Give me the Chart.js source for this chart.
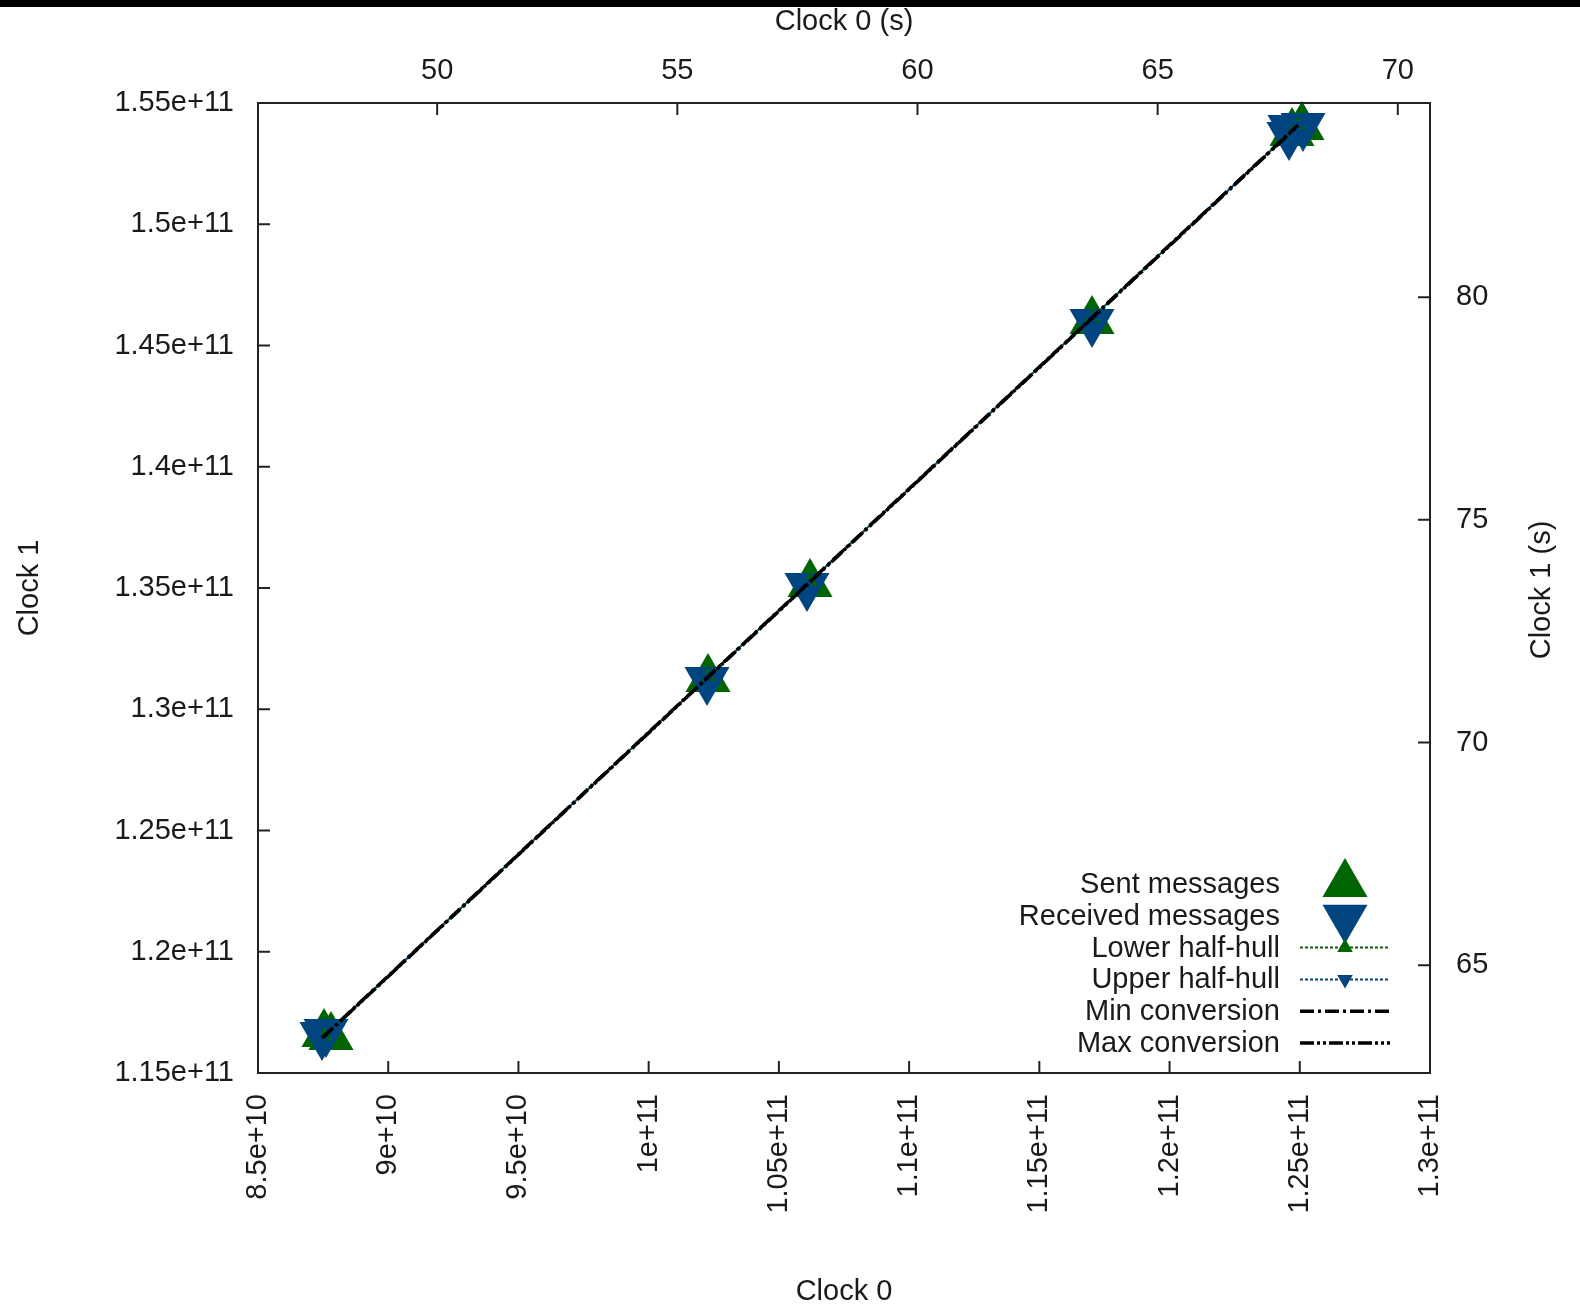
<!DOCTYPE html>
<html>
<head>
<meta charset="utf-8">
<script src="https://cdn.jsdelivr.net/npm/chart.js@4.4.1/dist/chart.umd.min.js"></script>
<style>
  html, body { margin: 0; padding: 0; background: #fff; }
  canvas { display: block; }
</style>
</head>
<body>
<canvas id="clockChart" width="1580" height="1311"></canvas>
<script>
// clock sync data
const sentX = [8.7534e10, 8.7803e10, 1.02278e11, 1.06195e11, 1.17022e11, 1.25085e11, 1.24701e11];
const sentY = [1.16608e11, 1.16485e11, 1.31247e11, 1.35165e11, 1.46010e11, 1.54010e11, 1.53763e11];
const recvX = [8.7457e10, 8.7611e10, 1.02240e11, 1.06079e11, 1.17022e11, 1.24625e11, 1.25124e11, 1.24586e11];
const recvY = [1.16567e11, 1.16691e11, 1.31206e11, 1.35083e11, 1.45969e11, 1.53969e11, 1.54052e11, 1.53680e11];
const lowerHullX = [8.7534e10, 1.02278e11, 1.06195e11, 1.17022e11, 1.24932e11];
const lowerHullY = [1.16520e11, 1.31333e11, 1.35269e11, 1.46146e11, 1.54093e11];
const upperHullX = [8.7457e10, 1.02240e11, 1.06079e11, 1.17022e11, 1.24932e11];
const upperHullY = [1.16443e11, 1.31295e11, 1.35152e11, 1.46146e11, 1.54093e11];
const minConvX = [8.7457e10, 1.24932e11];
const minConvY = [1.16443e11, 1.54093e11];
const maxConvX = [8.7500e10, 1.24932e11];
const maxConvY = [1.16470e11, 1.54070e11];

const xTickValues = [8.5e10, 9e10, 9.5e10, 1e11, 1.05e11, 1.1e11, 1.15e11, 1.2e11, 1.25e11, 1.3e11];
const xTickLabels = ['8.5e+10', '9e+10', '9.5e+10', '1e+11', '1.05e+11', '1.1e+11', '1.15e+11', '1.2e+11', '1.25e+11', '1.3e+11'];
const yTickValues = [1.15e11, 1.2e11, 1.25e11, 1.3e11, 1.35e11, 1.4e11, 1.45e11, 1.5e11, 1.55e11];
const yTickLabels = ['1.15e+11', '1.2e+11', '1.25e+11', '1.3e+11', '1.35e+11', '1.4e+11', '1.45e+11', '1.5e+11', '1.55e+11'];
const x2TickValues = [50, 55, 60, 65, 70];
const y2TickValues = [65, 70, 75, 80];

const GREEN = '#006400';
const BLUE = '#00457f';
const INK = '#1a1a1a';
const FONT = "'Liberation Sans', Arial, sans-serif";
const FSIZE = 29;
const BIG = 26;

const pts = (xs, ys) => xs.map((x, i) => ({ x, y: ys[i] }));

Chart.defaults.font.family = FONT;
Chart.defaults.font.size = FSIZE;
Chart.defaults.color = INK;

// fixed box sizes so the plot area lands where gnuplot put it
const fixW = w => scale => { scale.width = w; };
const fixH = h => scale => { scale.height = h; };
const setTicks = vals => scale => { scale.ticks = vals.map(v => ({ value: v })); };

const legendRows = [
  { text: 'Sent messages', kind: 'up', color: GREEN },
  { text: 'Received messages', kind: 'down', color: BLUE },
  { text: 'Lower half-hull', kind: 'line-up', color: GREEN, dash: [3, 2] },
  { text: 'Upper half-hull', kind: 'line-down', color: BLUE, dash: [3, 2] },
  { text: 'Min conversion', kind: 'line', color: '#000', dash: [14, 4, 3, 4] },
  { text: 'Max conversion', kind: 'line', color: '#000', dash: [14, 3, 3, 3, 3, 3] }
];

function triangle(ctx, x, y, r, down) {
  const s = down ? -1 : 1;
  ctx.beginPath();
  ctx.moveTo(x, y - s * r);
  ctx.lineTo(x + r * 0.866, y + s * r / 2);
  ctx.lineTo(x - r * 0.866, y + s * r / 2);
  ctx.closePath();
  ctx.fill();
}

const gnuplotFrame = {
  id: 'gnuplotFrame',
  beforeDraw(chart) {
    const ctx = chart.ctx;
    ctx.save();
    ctx.fillStyle = '#000';
    ctx.fillRect(0, 0, chart.width, 7);
    ctx.restore();
  },
  afterDatasetsDraw(chart) {
    const { ctx, chartArea: a, scales } = chart;
    ctx.save();
    ctx.strokeStyle = '#222';
    ctx.lineWidth = 2;
    ctx.strokeRect(a.left, a.top, a.right - a.left, a.bottom - a.top);

    // inward tick marks
    const tl = 12;
    ctx.beginPath();
    scales.x.ticks.forEach(t => {
      const p = scales.x.getPixelForValue(t.value);
      ctx.moveTo(p, a.bottom); ctx.lineTo(p, a.bottom - tl);
    });
    scales.x2.ticks.forEach(t => {
      const p = scales.x2.getPixelForValue(t.value);
      ctx.moveTo(p, a.top); ctx.lineTo(p, a.top + tl);
    });
    scales.y.ticks.forEach(t => {
      const p = scales.y.getPixelForValue(t.value);
      ctx.moveTo(a.left, p); ctx.lineTo(a.left + tl, p);
    });
    scales.y2.ticks.forEach(t => {
      const p = scales.y2.getPixelForValue(t.value);
      ctx.moveTo(a.right, p); ctx.lineTo(a.right - tl, p);
    });
    ctx.stroke();
    ctx.restore();
  },
  afterDraw(chart) {
    const { ctx, chartArea: a } = chart;
    ctx.save();
    // right axis title reads bottom to top like the left one
    ctx.font = FSIZE + 'px ' + FONT;
    ctx.fillStyle = INK;
    ctx.textAlign = 'center';
    ctx.textBaseline = 'middle';
    ctx.translate(1542, (a.top + a.bottom) / 2 + 2);
    ctx.rotate(-Math.PI / 2);
    ctx.fillText('Clock 1 (s)', 0, 0);
    ctx.restore();

    // legend, bottom right inside the plot
    ctx.save();
    ctx.font = FSIZE + 'px ' + FONT;
    ctx.textAlign = 'right';
    ctx.textBaseline = 'middle';
    const textRight = 1280, x0 = 1300, x1 = 1390, cx = 1345;
    legendRows.forEach((row, i) => {
      const y = 884 + i * 31.8;
      ctx.fillStyle = INK;
      ctx.fillText(row.text, textRight, y + 1);
      ctx.fillStyle = row.color;
      ctx.strokeStyle = row.color;
      if (row.kind === 'up') triangle(ctx, cx, y, BIG, false);
      else if (row.kind === 'down') triangle(ctx, cx, y + 2, BIG, true);
      else {
        ctx.lineWidth = row.kind === 'line' ? 3.5 : 2;
        ctx.setLineDash(row.dash);
        ctx.beginPath();
        ctx.moveTo(x0, y); ctx.lineTo(x1, y);
        ctx.stroke();
        ctx.setLineDash([]);
        if (row.kind === 'line-up') triangle(ctx, cx, y, 9, false);
        if (row.kind === 'line-down') triangle(ctx, cx, y, 9, true);
      }
    });
    ctx.restore();
  }
};

const ctx = document.getElementById('clockChart').getContext('2d');

new Chart(ctx, {
  type: 'scatter',
  data: {
    datasets: [
      {
        label: 'Max conversion',
        data: pts(maxConvX, maxConvY),
        showLine: true,
        borderColor: '#000',
        borderWidth: 3.5,
        borderDash: [14, 3, 3, 3, 3, 3],
        pointRadius: 0,
        clip: false,
        order: 1
      },
      {
        label: 'Min conversion',
        data: pts(minConvX, minConvY),
        showLine: true,
        borderColor: '#000',
        borderWidth: 3.5,
        borderDash: [14, 4, 3, 4],
        pointRadius: 0,
        clip: false,
        order: 2
      },
      {
        label: 'Upper half-hull',
        data: pts(upperHullX, upperHullY),
        showLine: true,
        borderColor: BLUE,
        borderWidth: 2,
        borderDash: [3, 2],
        pointStyle: 'triangle',
        rotation: 180,
        pointRadius: 9,
        pointBackgroundColor: BLUE,
        pointBorderWidth: 0,
        clip: false,
        order: 3
      },
      {
        label: 'Lower half-hull',
        data: pts(lowerHullX, lowerHullY),
        showLine: true,
        borderColor: GREEN,
        borderWidth: 2,
        borderDash: [3, 2],
        pointStyle: 'triangle',
        pointRadius: 9,
        pointBackgroundColor: GREEN,
        pointBorderWidth: 0,
        clip: false,
        order: 4
      },
      {
        label: 'Received messages',
        data: pts(recvX, recvY),
        pointStyle: 'triangle',
        rotation: 180,
        pointRadius: BIG,
        pointBackgroundColor: BLUE,
        pointBorderWidth: 0,
        clip: false,
        order: 5
      },
      {
        label: 'Sent messages',
        data: pts(sentX, sentY),
        pointStyle: 'triangle',
        pointRadius: BIG,
        pointBackgroundColor: GREEN,
        pointBorderWidth: 0,
        clip: false,
        order: 6
      }
    ]
  },
  options: {
    responsive: false,
    animation: false,
    devicePixelRatio: 1,
    layout: { padding: 0 },
    plugins: {
      legend: { display: false },
      tooltip: { enabled: false }
    },
    scales: {
      x: {
        type: 'linear',
        position: 'bottom',
        min: 8.5e10,
        max: 1.3e11,
        afterBuildTicks: setTicks(xTickValues),
        afterFit: fixH(238),
        grid: { display: false, drawTicks: false },
        border: { display: false },
        ticks: {
          padding: 21,
          autoSkip: false,
          minRotation: 90,
          maxRotation: 90,
          callback: (v, i) => xTickLabels[i]
        },
        title: { display: true, text: 'Clock 0', padding: { top: 0, bottom: 2 } }
      },
      x2: {
        type: 'linear',
        position: 'top',
        min: 46.27,
        max: 70.67,
        afterBuildTicks: setTicks(x2TickValues),
        afterFit: fixH(103),
        grid: { display: false, drawTicks: false },
        border: { display: false },
        ticks: { padding: 15, autoSkip: false, maxRotation: 0, callback: v => String(v) },
        title: { display: true, text: 'Clock 0 (s)', padding: { top: 5, bottom: 0 } }
      },
      y: {
        type: 'linear',
        position: 'left',
        min: 1.15e11,
        max: 1.55e11,
        afterBuildTicks: setTicks(yTickValues),
        afterFit: fixW(258),
        grid: { display: false, drawTicks: false },
        border: { display: false },
        ticks: { padding: 24, autoSkip: false, callback: (v, i) => yTickLabels[i] },
        title: { display: true, text: 'Clock 1', padding: { top: 13, bottom: 0 } }
      },
      y2: {
        type: 'linear',
        position: 'right',
        min: 62.58,
        max: 84.36,
        afterBuildTicks: setTicks(y2TickValues),
        afterFit: fixW(150),
        grid: { display: false, drawTicks: false },
        border: { display: false },
        ticks: { padding: 26, autoSkip: false, callback: v => String(v) },
        title: { display: false }
      }
    }
  },
  plugins: [gnuplotFrame]
});
</script>
</body>
</html>
